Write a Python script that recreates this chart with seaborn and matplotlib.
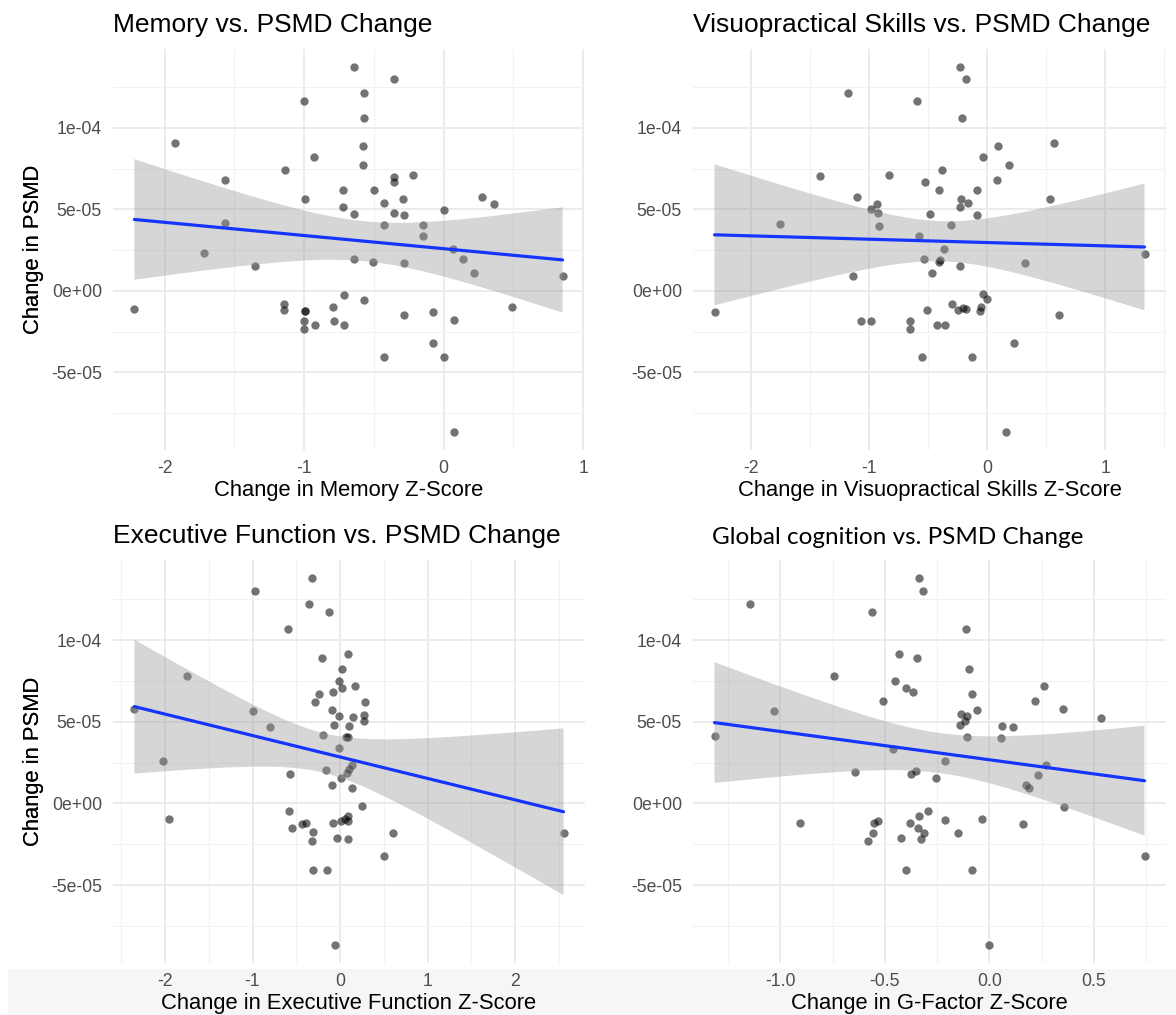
import numpy as np
import pandas as pd
import matplotlib
matplotlib.use("Agg")
import matplotlib.pyplot as plt
from matplotlib.patches import Rectangle
import seaborn as sns

# ---------------- data ----------------
memory_x = [-0.640, -0.356, -0.571, -1.003, -0.571, -1.927, -0.577, -0.927, -1.137, -0.577,
            -1.569, -0.356, -0.356, -0.221, -0.720, -0.499, -0.995, -0.288, -0.429, 0.278,
            0.358, -0.720, -0.644, -0.356, -0.283, 0.000, -1.569, -0.429, -0.146, -0.146,
            -1.717, -1.353, -0.644, -0.504, -0.283, 0.070, 0.137, 0.216, 0.852, -2.216,
            -0.714, -0.571, -1.143, -1.143, -0.995, -0.995, -0.792, -1.003, -1.003, -0.922,
            -0.787, -0.714, -0.283, -0.073, 0.075, 0.493, -0.078, -0.429, 0.000, 0.075]
memory_y = [13.73e-5, 13.00e-5, 12.16e-5, 11.65e-5, 10.61e-5, 9.06e-5, 8.88e-5, 8.20e-5, 7.45e-5, 7.71e-5,
            6.80e-5, 7.02e-5, 6.67e-5, 7.10e-5, 6.18e-5, 6.20e-5, 5.63e-5, 5.67e-5, 5.41e-5, 5.76e-5,
            5.33e-5, 5.16e-5, 4.71e-5, 4.80e-5, 4.67e-5, 4.98e-5, 4.14e-5, 4.02e-5, 4.06e-5, 3.35e-5,
            2.31e-5, 1.53e-5, 1.94e-5, 1.80e-5, 1.69e-5, 2.57e-5, 1.94e-5, 1.08e-5, 0.90e-5, -1.10e-5,
            -0.27e-5, -0.53e-5, -0.82e-5, -1.20e-5, -1.22e-5, -1.22e-5, -1.02e-5, -1.82e-5, -2.33e-5, -2.12e-5,
            -1.84e-5, -2.08e-5, -1.51e-5, -1.27e-5, -1.80e-5, -0.98e-5, -3.20e-5, -4.06e-5, -4.06e-5, -8.65e-5]

visuo_x = [-0.236, -0.179, -1.182, -0.597, -0.217, 0.562, 0.093, -0.038, 0.185, -0.387,
           -1.419, -0.837, 0.080, -0.527, -0.409, -0.086, -1.109, 0.530, -0.220, -0.166,
           -0.939, -0.230, -0.987, -0.927, -0.489, -0.086, -1.760, -0.920, -0.310, -0.578,
           -0.367, 1.332, -0.540, -0.399, -0.406, 0.323, -0.230, -0.473, -1.141, -0.038,
           0.000, -0.300, -0.252, -0.204, -0.179, -0.054, -0.061, -0.508, -2.313, 0.610,
           -1.070, -0.987, -0.652, -0.652, -0.431, -0.358, 0.224, -0.550, -0.128, 0.160]
visuo_y = [13.73e-5, 13.00e-5, 12.16e-5, 11.65e-5, 10.61e-5, 9.06e-5, 8.88e-5, 8.20e-5, 7.73e-5, 7.45e-5,
           7.04e-5, 7.12e-5, 6.80e-5, 6.67e-5, 6.18e-5, 6.20e-5, 5.76e-5, 5.67e-5, 5.63e-5, 5.41e-5,
           5.33e-5, 5.16e-5, 5.00e-5, 4.78e-5, 4.71e-5, 4.67e-5, 4.12e-5, 4.00e-5, 4.06e-5, 3.39e-5,
           2.57e-5, 2.29e-5, 1.94e-5, 1.92e-5, 1.76e-5, 1.69e-5, 1.53e-5, 1.08e-5, 0.90e-5, -0.22e-5,
           -0.51e-5, -0.82e-5, -1.18e-5, -1.06e-5, -1.10e-5, -1.02e-5, -1.22e-5, -1.20e-5, -1.29e-5, -1.51e-5,
           -1.82e-5, -1.82e-5, -1.82e-5, -2.33e-5, -2.12e-5, -2.08e-5, -3.22e-5, -4.06e-5, -4.06e-5, -8.65e-5]

exec_x = [-0.323, -0.970, -0.358, -0.129, -0.591, 0.095, -0.203, 0.022, -1.746, -0.017,
          0.172, 0.026, -0.076, -0.236, -0.286, 0.286, -2.349, -1.000, -0.095, -0.008,
          0.274, 0.152, 0.278, -0.065, 0.106, -0.797, -0.190, 0.070, 0.090, -0.011,
          -2.026, 0.133, 0.106, -0.163, 0.076, -0.569, 0.008, -0.095, 0.133, 0.255,
          -0.586, -1.953, 0.052, 0.086, 0.013, -0.086, 0.095, -0.388, -0.431, -0.547,
          -0.310, 0.603, 2.552, -0.319, -0.030, 0.095, 0.496, -0.310, -0.147, -0.060]
exec_y = [13.78e-5, 13.03e-5, 12.21e-5, 11.70e-5, 10.65e-5, 9.12e-5, 8.92e-5, 8.20e-5, 7.77e-5, 7.51e-5,
          7.16e-5, 7.08e-5, 6.80e-5, 6.70e-5, 6.19e-5, 6.23e-5, 5.77e-5, 5.66e-5, 5.72e-5, 5.38e-5,
          5.44e-5, 5.27e-5, 5.03e-5, 4.83e-5, 4.76e-5, 4.68e-5, 4.19e-5, 4.06e-5, 4.06e-5, 3.40e-5,
          2.60e-5, 2.38e-5, 2.12e-5, 2.02e-5, 1.85e-5, 1.80e-5, 1.57e-5, 1.14e-5, 0.96e-5, -0.18e-5,
          -0.49e-5, -0.98e-5, -0.96e-5, -0.78e-5, -1.10e-5, -1.19e-5, -1.10e-5, -1.19e-5, -1.27e-5, -1.49e-5,
          -1.76e-5, -1.82e-5, -1.80e-5, -2.29e-5, -2.09e-5, -2.15e-5, -3.23e-5, -4.05e-5, -4.05e-5, -8.65e-5]

gfactor_x = [-0.338, -0.316, -1.146, -0.561, -0.110, -0.432, -0.345, -0.098, -0.745, -0.450,
             0.262, -0.398, -0.367, -0.083, -0.508, 0.217, 0.351, -1.033, -0.058, -0.134,
             -0.107, 0.535, -0.116, -0.139, 0.061, 0.112, -1.316, -0.107, 0.054, -0.463,
             -0.210, 0.273, -0.644, -0.349, -0.374, 0.235, -0.257, 0.174, 0.190, 0.356,
             -0.295, -0.338, -0.034, -0.210, -0.906, -0.535, -0.550, -0.380, 0.161, -0.342,
             -0.557, -0.315, -0.150, -0.582, -0.421, -0.327, 0.743, -0.398, -0.081, 0.000]
gfactor_y = [13.78e-5, 13.03e-5, 12.21e-5, 11.70e-5, 10.65e-5, 9.12e-5, 8.92e-5, 8.20e-5, 7.77e-5, 7.51e-5,
             7.16e-5, 7.08e-5, 6.85e-5, 6.71e-5, 6.24e-5, 6.24e-5, 5.79e-5, 5.66e-5, 5.71e-5, 5.46e-5,
             5.34e-5, 5.21e-5, 5.03e-5, 4.83e-5, 4.72e-5, 4.68e-5, 4.13e-5, 4.07e-5, 4.03e-5, 3.35e-5,
             2.60e-5, 2.35e-5, 1.94e-5, 1.96e-5, 1.80e-5, 1.72e-5, 1.55e-5, 1.15e-5, 0.94e-5, -0.22e-5,
             -0.49e-5, -0.78e-5, -0.96e-5, -1.02e-5, -1.19e-5, -1.08e-5, -1.21e-5, -1.19e-5, -1.25e-5, -1.49e-5,
             -1.80e-5, -1.82e-5, -1.80e-5, -2.29e-5, -2.09e-5, -2.15e-5, -3.23e-5, -4.05e-5, -4.05e-5, -8.65e-5]

titles = ["Memory vs. PSMD Change", "Visuopractical Skills vs. PSMD Change",
          "Executive Function vs. PSMD Change", "Global cognition vs. PSMD Change"]
x_labels = ["Change in Memory Z-Score", "Change in Visuopractical Skills Z-Score",
            "Change in Executive Function Z-Score", "Change in G-Factor Z-Score"]
y_label = "Change in PSMD"

y_ticks = [-5e-5, 0.0, 5e-5, 1e-4]
y_tick_labels = ["-5e-05", "0e+00", "5e-05", "1e-04"]
x_ticks_memory = [-2, -1, 0, 1]
x_ticks_visuo = [-2, -1, 0, 1]
x_ticks_exec = [-2, -1, 0, 1, 2]
x_ticks_gfactor = [-1.0, -0.5, 0.0, 0.5]
x_tick_labels_memory = ["-2", "-1", "0", "1"]
x_tick_labels_visuo = ["-2", "-1", "0", "1"]
x_tick_labels_exec = ["-2", "-1", "0", "1", "2"]
x_tick_labels_gfactor = ["-1.0", "-0.5", "0.0", "0.5"]

# ---------------- style ----------------
sns.set_theme(style="white")
plt.rcParams["font.family"] = ["Liberation Sans", "DejaVu Sans"]
plt.rcParams["axes.unicode_minus"] = False

W, H = 1176, 1015
fig = plt.figure(figsize=(W / 100, H / 100), dpi=100)
fig.patch.set_facecolor("white")

# very light grey band at the very bottom of the reference
fig.patches.append(Rectangle((8 / W, 0), 1 - 8 / W, (H - 969) / H, transform=fig.transFigure,
                             facecolor="#f6f6f6", edgecolor="none", zorder=-5))

# panel rectangles in pixels: (left, top, right, bottom)
panel_px = [(113, 49, 584, 450), (693, 49, 1166, 450),
            (113, 560, 585, 963), (693, 560, 1166, 963)]

datasets = [
    (memory_x, memory_y, x_ticks_memory, x_tick_labels_memory),
    (visuo_x, visuo_y, x_ticks_visuo, x_tick_labels_visuo),
    (exec_x, exec_y, x_ticks_exec, x_tick_labels_exec),
    (gfactor_x, gfactor_y, x_ticks_gfactor, x_tick_labels_gfactor),
]

LINE_BLUE = "#1535ff"
TICK_GREY = "#4d4d4d"
T975 = 2.0017  # t quantile (0.975) for n - 2 = 58 degrees of freedom


def expand(v, frac=0.05):
    lo, hi = min(v), max(v)
    pad = (hi - lo) * frac
    return lo - pad, hi + pad


for i, ((l, t, r, b), (xs, ys, xt, xtl)) in enumerate(zip(panel_px, datasets)):
    ax = fig.add_axes([l / W, 1 - b / H, (r - l) / W, (b - t) / H])
    ax.set_facecolor("white")
    df = pd.DataFrame({"x": xs, "y": ys})
    sns.regplot(data=df, x="x", y="y", ax=ax, ci=None, truncate=True,
                scatter_kws=dict(s=36, color="black", alpha=0.55, linewidths=0),
                line_kws=dict(color=LINE_BLUE, lw=2.3, zorder=3))

    # analytic 95% confidence band of the linear fit (as geom_smooth(method="lm"))
    xa = np.asarray(xs, dtype=float)
    ya = np.asarray(ys, dtype=float)
    n = len(xa)
    slope, intercept = np.polyfit(xa, ya, 1)
    resid = ya - (slope * xa + intercept)
    s_err = np.sqrt(np.sum(resid ** 2) / (n - 2))
    sxx = np.sum((xa - xa.mean()) ** 2)
    grid = np.linspace(xa.min(), xa.max(), 200)
    fit = slope * grid + intercept
    half = T975 * s_err * np.sqrt(1.0 / n + (grid - xa.mean()) ** 2 / sxx)
    ax.fill_between(grid, fit - half, fit + half, facecolor="#999999", alpha=0.4,
                    edgecolor="none", zorder=2)

    xlo, xhi = expand(xs)
    ylo, yhi = expand(ys)
    ax.set_xlim(xlo, xhi)
    ax.set_ylim(ylo, yhi)

    # major / minor grid
    step = xt[1] - xt[0]
    minor_x = np.arange(xt[0] - 2 * step, xt[-1] + 2 * step, step / 2)
    minor_x = [m for m in minor_x if xlo <= m <= xhi and not np.any(np.isclose(m, xt))]
    minor_y = [-7.5e-5, -2.5e-5, 2.5e-5, 7.5e-5, 1.25e-4]
    ax.set_xticks(xt)
    ax.set_xticklabels(xtl)
    ax.set_yticks(y_ticks)
    ax.set_yticklabels(y_tick_labels)
    ax.set_xticks(minor_x, minor=True)
    ax.set_yticks([m for m in minor_y if ylo <= m <= yhi], minor=True)
    ax.grid(True, which="major", color="#ebebeb", linewidth=1.4, zorder=0)
    ax.grid(True, which="minor", color="#f2f2f2", linewidth=0.8, zorder=0)
    ax.set_axisbelow(True)
    for s in ax.spines.values():
        s.set_visible(False)
    ax.tick_params(axis="both", which="both", length=0)
    ax.tick_params(axis="x", pad=7, labelsize=12.7, labelcolor=TICK_GREY)
    ax.tick_params(axis="y", pad=8, labelsize=12.7, labelcolor=TICK_GREY)

    ax.set_xlabel(x_labels[i], fontsize=15.8, color="black")
    ax.set_ylabel(y_label, fontsize=15.8, color="black")
    ax.xaxis.set_label_coords(0.5, -(46.0) / (b - t))
    ax.xaxis.label.set_va("baseline")
    ax.yaxis.set_label_coords((34 - l) / (r - l), 0.5)
    ax.yaxis.label.set_va("center")

    if i < 3:
        ax.set_title(titles[i], loc="left", fontsize=19, color="black", pad=12.5)
    else:
        fig.text(712 / W, 1 - 544 / H, titles[i], fontsize=17.5, color="black",
                 family=["Lato", "DejaVu Sans"], va="baseline", ha="left")

fig.savefig("out.png", dpi=100)
